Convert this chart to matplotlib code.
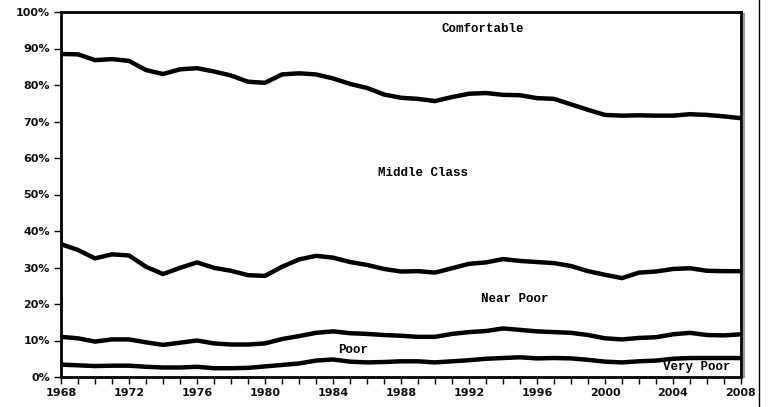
import numpy as np
import matplotlib
matplotlib.use("Agg")
import matplotlib.pyplot as plt
from matplotlib.lines import Line2D
from matplotlib.ticker import FuncFormatter, MultipleLocator

# boundaries between income groups, percent of population, 1968-2008
years = list(range(1968, 2009))

comfortable_floor = [88.5, 88.4, 86.8, 87.1, 86.6, 84.1, 83.0, 84.3, 84.6, 83.7,
                     82.6, 80.9, 80.6, 82.9, 83.2, 82.9, 81.8, 80.3, 79.2, 77.4,
                     76.5, 76.2, 75.6, 76.7, 77.6, 77.8, 77.3, 77.2, 76.4, 76.2,
                     74.7, 73.2, 71.8, 71.6, 71.7, 71.6, 71.6, 72.0, 71.8, 71.4,
                     70.9]
middle_floor = [36.4, 34.8, 32.5, 33.6, 33.3, 30.2, 28.2, 29.9, 31.4, 29.9,
                29.1, 27.9, 27.7, 30.2, 32.2, 33.2, 32.7, 31.5, 30.7, 29.6,
                28.9, 29.0, 28.6, 29.8, 31.0, 31.4, 32.3, 31.8, 31.5, 31.2,
                30.4, 29.0, 28.0, 27.1, 28.6, 28.9, 29.6, 29.8, 29.1, 29.0,
                29.0]
near_poor_floor = [11.0, 10.6, 9.7, 10.3, 10.3, 9.5, 8.8, 9.4, 10.0, 9.2,
                   8.9, 8.9, 9.2, 10.4, 11.2, 12.1, 12.5, 12.0, 11.8, 11.5,
                   11.3, 11.0, 11.0, 11.8, 12.3, 12.6, 13.3, 12.9, 12.5, 12.3,
                   12.1, 11.5, 10.6, 10.3, 10.7, 10.9, 11.7, 12.1, 11.5, 11.4,
                   11.7]
poor_floor = [3.4, 3.2, 3.0, 3.1, 3.1, 2.8, 2.6, 2.6, 2.8, 2.4,
              2.4, 2.5, 2.9, 3.3, 3.7, 4.5, 4.8, 4.2, 4.0, 4.1,
              4.3, 4.3, 4.0, 4.3, 4.6, 5.0, 5.2, 5.4, 5.1, 5.2,
              5.1, 4.7, 4.2, 4.0, 4.3, 4.5, 5.0, 5.2, 5.2, 5.2,
              5.2]

group_labels = ["Comfortable", "Middle Class", "Near Poor", "Poor", "Very Poor"]
label_pos = [(1992.8, 95.3), (1989.3, 55.9), (1994.7, 21.4), (1985.2, 7.4), (2005.4, 2.7)]

fig = plt.figure(figsize=(7.68, 4.07), dpi=100)
ax = fig.add_axes([61 / 768, 30 / 407, 680 / 768, 365 / 407])

for series in [comfortable_floor, middle_floor, near_poor_floor, poor_floor]:
    ax.plot(years, series, color="black", lw=3.2, solid_capstyle="butt", zorder=3)

for name, (x, y) in zip(group_labels, label_pos):
    ax.text(x, y, name, family="Liberation Mono", weight="bold", fontsize=9,
            ha="center", va="center")

ax.set_xlim(1968, 2008)
ax.set_ylim(0, 100)
ax.xaxis.set_major_locator(MultipleLocator(4))
ax.xaxis.set_minor_locator(MultipleLocator(1))
ax.yaxis.set_major_locator(MultipleLocator(10))
ax.yaxis.set_major_formatter(FuncFormatter(lambda v, p: f"{v:.0f}%"))

for lab in ax.get_xticklabels() + ax.get_yticklabels():
    lab.set_fontweight("bold")
    lab.set_fontsize(8)
    lab.set_color("#111111")

ax.tick_params(axis="x", which="both", direction="out", length=5, width=1, pad=3)
ax.tick_params(axis="y", which="major", direction="out", length=5, width=1, pad=3)

for side in ["top", "left", "bottom", "right"]:
    ax.spines[side].set_linewidth(2)
    ax.spines[side].set_color("black")

# grey shadow to the right of the frame
fig.add_artist(Line2D([743.5 / 768, 743.5 / 768], [30 / 407, 393 / 407],
                      color="#999999", lw=1.5))
# border line at the right edge of the image
fig.add_artist(Line2D([759 / 768, 759 / 768], [1 / 407, 1.0], color="black", lw=1))

fig.savefig("out.png", dpi=100)
